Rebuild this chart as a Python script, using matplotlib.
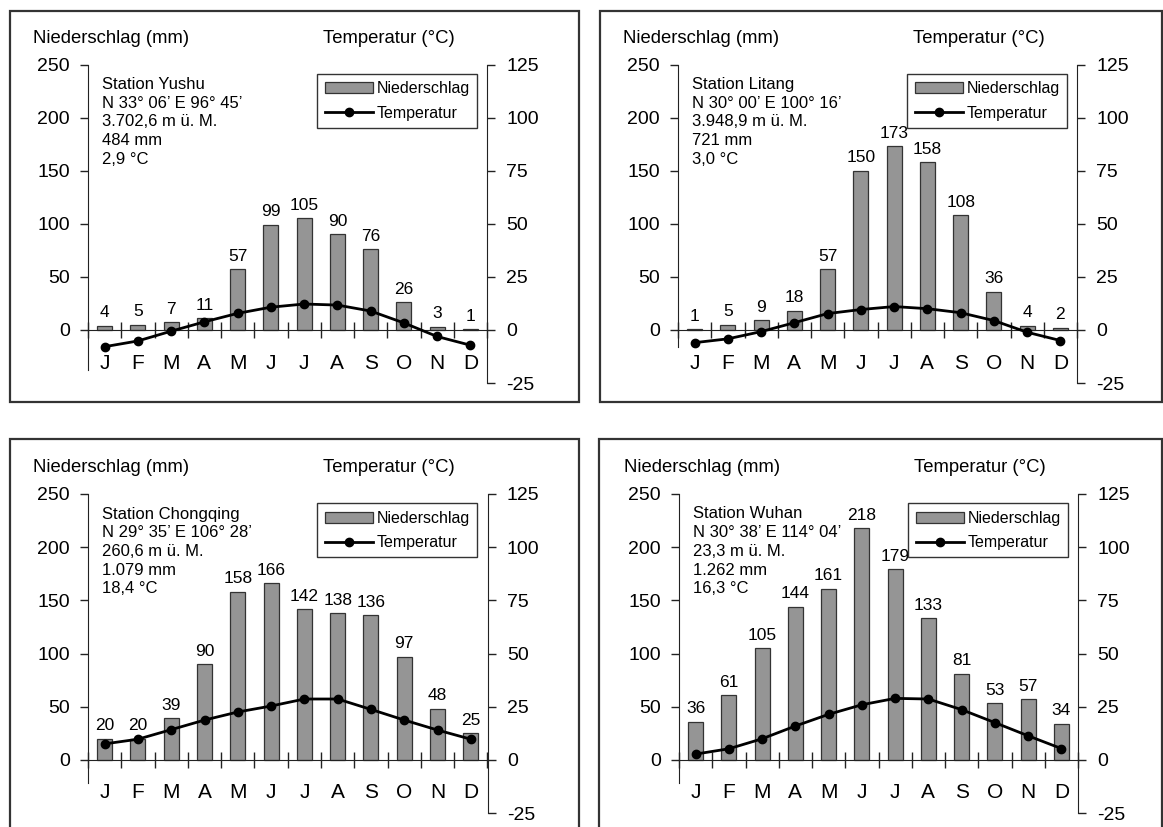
import matplotlib
matplotlib.use("Agg")
import matplotlib.pyplot as plt
from matplotlib.patches import Rectangle
import numpy as np

plt.rcParams['font.family'] = ['Liberation Sans', 'DejaVu Sans']
plt.rcParams['axes.unicode_minus'] = False

# Klimadiagramme: Niederschlag (mm) und Temperatur (°C) je Monat
months = ['J', 'F', 'M', 'A', 'M', 'J', 'J', 'A', 'S', 'O', 'N', 'D']

prec_yushu = [4, 5, 7, 11, 57, 99, 105, 90, 76, 26, 3, 1]
temp_yushu = [-7.9, -5.2, -0.6, 3.8, 7.8, 10.7, 12.2, 11.7, 8.9, 3.3, -3.1, -7.2]

prec_litang = [1, 5, 9, 18, 57, 150, 173, 158, 108, 36, 4, 2]
temp_litang = [-6.0, -4.2, -0.8, 3.4, 7.7, 9.6, 11.0, 10.0, 8.1, 4.4, -1.1, -5.0]

prec_chongqing = [20, 20, 39, 90, 158, 166, 142, 138, 136, 97, 48, 25]
temp_chongqing = [7.5, 9.7, 14.2, 18.7, 22.5, 25.3, 28.6, 28.6, 23.7, 18.7, 14.0, 9.7]

prec_wuhan = [36, 61, 105, 144, 161, 218, 179, 133, 81, 53, 57, 34]
temp_wuhan = [2.7, 5.2, 9.9, 15.9, 21.4, 25.9, 28.9, 28.6, 23.6, 17.5, 11.3, 5.3]

info_yushu = ["Station Yushu", "N 33° 06’ E 96° 45’", "3.702,6 m ü. M.", "484 mm", "2,9 °C"]
info_litang = ["Station Litang", "N 30° 00’ E 100° 16’", "3.948,9 m ü. M.", "721 mm", "3,0 °C"]
info_chongqing = ["Station Chongqing", "N 29° 35’ E 106° 28’", "260,6 m ü. M.", "1.079 mm", "18,4 °C"]
info_wuhan = ["Station Wuhan", "N 30° 38’ E 114° 04’", "23,3 m ü. M.", "1.262 mm", "16,3 °C"]

prec = [prec_yushu, prec_litang, prec_chongqing, prec_wuhan]
temp = [temp_yushu, temp_litang, temp_chongqing, temp_wuhan]
info = [info_yushu, info_litang, info_chongqing, info_wuhan]

W, H = 1163, 827
fig = plt.figure(figsize=(W / 100, H / 100), dpi=100)


def fig_rect(x0, y0, x1, y1):
    # Pixel (oben links) -> Figure-Koordinaten
    return [x0 / W, 1 - y1 / H, (x1 - x0) / W, (y1 - y0) / H]


# linke Achse, rechte Achse, y bei 250 mm, y bei -50 mm, Rahmen, Ende linke Achse
layout = [
    (88, 487, 64.5, 383, (10, 11, 579, 402), -38),
    (678, 1077, 64.5, 383, (600, 11, 1162, 402), -16),
    (88, 487.5, 494, 813, (10, 439, 579, 840), -22),
    (679, 1078, 494, 813, (599, 439, 1162, 840), -22),
]
ink = '#222222'
x = np.arange(12)

for k in range(4):
    left, right, top, bottom, frame, spine_end = layout[k]

    r = fig_rect(*frame)
    fig.patches.append(Rectangle((r[0], r[1]), r[2], r[3], transform=fig.transFigure,
                                 fill=False, lw=1.6, ec='#333333'))

    ax = fig.add_axes(fig_rect(left, top, right, bottom))
    ax.patch.set_visible(False)
    bars = ax.bar(x, prec[k], width=0.45, color='#959595', edgecolor='#333333',
                  lw=0.9, label='Niederschlag', zorder=2)
    for i, p in enumerate(prec[k]):
        ax.annotate(str(p), (i, p), xytext=(0, 6), textcoords='offset points',
                    ha='center', va='baseline', fontsize=12.5)
    ax.set_xlim(-0.5, 11.5)
    ax.set_ylim(-50, 250)
    ax.set_yticks(np.arange(0, 251, 50))
    ax.tick_params(axis='y', direction='out', length=6, width=1, color=ink,
                   labelsize=14, pad=7)
    ax.set_xticks(np.arange(-0.5, 12, 1))
    ax.set_xticklabels([])
    ax.set_xticks(x, minor=True)
    ax.set_xticklabels(months, minor=True)
    ax.tick_params(axis='x', which='major', direction='inout', length=11, width=1, color=ink)
    ax.tick_params(axis='x', which='minor', length=0, pad=17, labelsize=15)
    for s in ['top', 'right']:
        ax.spines[s].set_visible(False)
    ax.spines['bottom'].set_position(('data', 0))
    ax.spines['bottom'].set_color(ink)
    ax.spines['left'].set_color(ink)
    ax.spines['left'].set_bounds(spine_end, 250)

    ax2 = ax.twinx()
    line, = ax2.plot(x, temp[k], color='black', lw=2, marker='o', ms=6,
                     label='Temperatur', clip_on=False)
    ax2.set_ylim(-25, 125)
    ax2.set_yticks(np.arange(-25, 126, 25))
    ax2.tick_params(axis='y', direction='out', length=6, width=1, color=ink,
                    labelsize=14, pad=8)
    for s in ['top', 'left', 'bottom']:
        ax2.spines[s].set_visible(False)
    ax2.spines['right'].set_color(ink)

    leg = ax2.legend([bars, line], ['Niederschlag', 'Temperatur'], loc='upper right',
                     bbox_to_anchor=((left + 389) / W, 1 - (top + 9.5) / H),
                     bbox_transform=fig.transFigure, borderaxespad=0, fancybox=False,
                     edgecolor='#333333', framealpha=1, fontsize=11.5, handlelength=3.0,
                     handletextpad=0.25, labelspacing=0.6, borderpad=0.45)
    leg.get_frame().set_linewidth(1)

    fig.text((left - 55) / W, 1 - (top - 26) / H, 'Niederschlag (mm)', fontsize=13.3, va='center')
    fig.text((left + 235) / W, 1 - (top - 26) / H, 'Temperatur (°C)', fontsize=13.3, va='center')
    for j, txt in enumerate(info[k]):
        fig.text((left + 14) / W, 1 - (top + 20 + j * 18.7) / H, txt, fontsize=12, va='center')

fig.savefig('out.png', dpi=100)
